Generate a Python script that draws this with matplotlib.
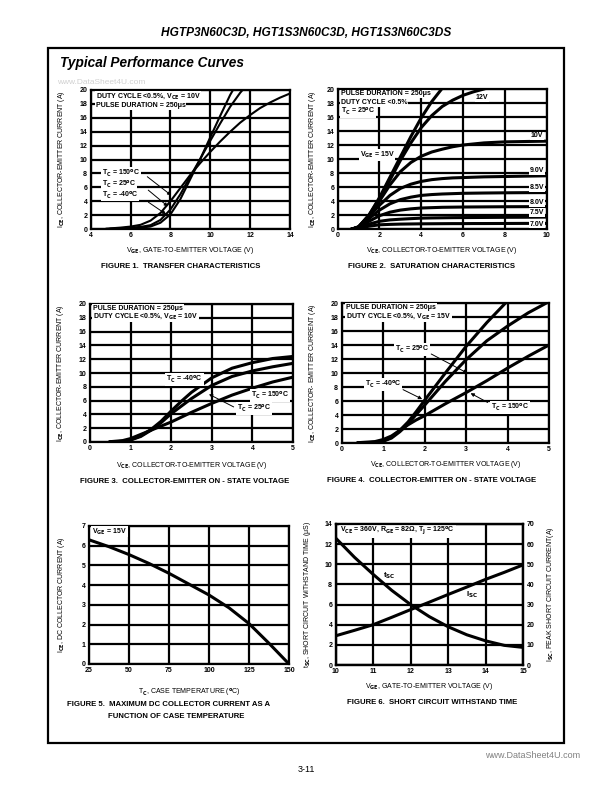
import matplotlib
matplotlib.use('Agg')
import matplotlib.pyplot as plt
from matplotlib.patches import Rectangle

plt.rcParams['font.family'] = ['Liberation Sans Narrow', 'Liberation Sans', 'DejaVu Sans']
plt.rcParams['font.weight'] = 'bold'
plt.rcParams['mathtext.fontset'] = 'custom'
plt.rcParams['mathtext.rm'] = 'Liberation Sans Narrow:bold'
plt.rcParams['mathtext.it'] = 'Liberation Sans Narrow:bold'
plt.rcParams['mathtext.bf'] = 'Liberation Sans Narrow:bold'

# --- Figure 1: transfer characteristics ---
f1_vge_150 = [4.8, 5.5, 6, 6.5, 7, 7.5, 8, 8.5, 9, 9.5, 10, 10.5, 11, 11.5, 12, 12.5, 13, 13.5, 14]
f1_ice_150 = [0.05, 0.2, 0.35, 0.6, 1.2, 2.3, 4.0, 5.9, 7.8, 9.5, 11.1, 12.6, 14.0, 15.3, 16.4, 17.4, 18.2, 18.9, 19.5]
f1_vge_25 = [5, 5.5, 6, 6.5, 7, 7.5, 8, 8.5, 9, 9.5, 10, 10.5, 11, 11.5, 11.8]
f1_ice_25 = [0.05, 0.1, 0.2, 0.3, 0.55, 1.3, 2.8, 5.0, 7.6, 10.1, 12.7, 15.2, 17.6, 19.6, 20.6]
f1_vge_m40 = [5.5, 6, 6.5, 7, 7.5, 8, 8.5, 9, 9.5, 10, 10.5, 11, 11.3]
f1_ice_m40 = [0.0, 0.1, 0.2, 0.35, 0.9, 2.1, 4.3, 7.2, 10.1, 13.2, 16.3, 19.3, 20.8]

# --- Figure 2: saturation characteristics (VCE -> ICE per VGE) ---
f2_vce = [0.7, 1, 1.5, 2, 2.5, 3, 3.5, 4, 4.5, 5, 5.5, 6, 6.5, 7, 8, 9, 10]
f2_curves = {
    '15V': [0.0, 0.3, 2.0, 4.5, 7.4, 10.3, 13.2, 15.9, 18.2, 20.1, 22, 23, 24, 25, 26, 27, 28],
    '12V': [0.0, 0.3, 2.0, 4.3, 7.0, 9.8, 12.3, 14.5, 16.2, 17.5, 18.4, 19.1, 19.6, 20.0, 21, 21.5, 22],
    '10V': [0.0, 0.3, 1.9, 4.0, 6.3, 8.2, 9.5, 10.4, 11.0, 11.4, 11.75, 12.0, 12.15, 12.3, 12.45, 12.5, 12.55],
    '9.0V': [0.0, 0.3, 1.8, 3.4, 4.8, 5.8, 6.4, 6.8, 7.05, 7.2, 7.3, 7.35, 7.4, 7.45, 7.5, 7.55, 7.6],
    '8.5V': [0.0, 0.3, 1.5, 2.7, 3.6, 4.2, 4.55, 4.8, 4.92, 5.0, 5.05, 5.1, 5.12, 5.14, 5.17, 5.19, 5.2],
    '8.0V': [0.0, 0.2, 1.1, 1.9, 2.4, 2.7, 2.88, 3.0, 3.05, 3.1, 3.12, 3.14, 3.15, 3.16, 3.18, 3.19, 3.2],
    '7.5V': [0.0, 0.2, 0.7, 1.1, 1.3, 1.4, 1.48, 1.55, 1.58, 1.6, 1.62, 1.63, 1.64, 1.65, 1.67, 1.68, 1.7],
    '7.0V': [0.0, 0.1, 0.4, 0.6, 0.66, 0.7, 0.72, 0.74, 0.75, 0.76, 0.77, 0.77, 0.78, 0.78, 0.79, 0.8, 0.8],
}
f2_label_xy = {
    '12V': (6.6, 18.8), '10V': (9.25, 13.3), '9.0V': (9.2, 8.3), '8.5V': (9.2, 5.95),
    '8.0V': (9.2, 3.8), '7.5V': (9.2, 2.4), '7.0V': (9.2, 0.7),
}

# --- Figure 3: on-state voltage, VGE = 10V ---
f3_vce = [0.5, 0.8, 1, 1.25, 1.5, 1.75, 2, 2.25, 2.5, 3, 3.5, 4, 4.5, 5]
f3_ice_m40 = [0.0, 0.1, 0.3, 0.9, 1.8, 3.0, 4.5, 5.9, 7.2, 9.3, 10.7, 11.5, 12.1, 12.4]
f3_ice_25 = [0.0, 0.1, 0.3, 0.8, 1.7, 2.8, 4.1, 5.2, 6.3, 8.2, 9.5, 10.3, 10.9, 11.4]
f3_ice_150 = [0.05, 0.2, 0.5, 1.1, 1.7, 2.3, 2.9, 3.6, 4.3, 5.6, 6.8, 7.8, 8.7, 9.4]

# --- Figure 4: on-state voltage, VGE = 15V ---
f4_vce = [0.4, 0.8, 1, 1.2, 1.4, 1.6, 1.8, 2, 2.5, 3, 3.5, 4, 4.5, 5]
f4_ice_m40 = [0.0, 0.1, 0.3, 0.8, 1.8, 3.0, 4.5, 6.1, 10.0, 13.8, 17.2, 20.3, 23, 25]
f4_ice_25 = [0.0, 0.1, 0.25, 0.7, 1.6, 2.7, 4.1, 5.4, 8.8, 11.9, 14.6, 16.7, 18.6, 20.2]
f4_ice_150 = [0.05, 0.2, 0.5, 1.0, 1.8, 2.6, 3.3, 3.9, 5.6, 7.2, 8.9, 10.7, 12.4, 14.0]

# --- Figure 5: max DC collector current vs case temperature ---
f5_tc = [25, 37.5, 50, 62.5, 75, 87.5, 100, 112.5, 125, 137.5, 150]
f5_ice = [6.3, 5.95, 5.55, 5.1, 4.6, 4.05, 3.5, 2.85, 2.05, 1.05, 0.0]

# --- Figure 6: short circuit withstand time ---
f6_vge = [10, 10.5, 11, 11.5, 12, 12.5, 13, 13.5, 14, 14.5, 15]
f6_tsc = [12.6, 10.7, 9.0, 7.4, 6.0, 4.8, 3.8, 3.0, 2.4, 1.95, 1.75]
f6_isc = [14.5, 17.2, 20.0, 23.7, 27.5, 31.2, 35.0, 38.7, 42.5, 46.0, 49.7]

W, H = 612, 792
fig = plt.figure(figsize=(W / 100, H / 100), dpi=100)


def rect(l, t, r, b):
    return [l / W, 1 - b / H, (r - l) / W, (b - t) / H]


def sub(s):
    return r'$_\mathrm{' + s + '}$'


DEG = r'$^\mathrm{o}$'
TS = 5.0
LBL = dict(facecolor='white', edgecolor='none', pad=0.6)


def style(ax, xlim, ylim, xticks, yticks, xlabel, ylabel, xl_y, yl_x):
    ax.set_xlim(*xlim)
    ax.set_ylim(*ylim)
    ax.set_xticks(xticks)
    ax.set_yticks(yticks)
    ax.grid(True, color='black', lw=1.6)
    ax.set_axisbelow(True)
    ax.tick_params(length=0, labelsize=TS, pad=2.5)
    for s in ax.spines.values():
        s.set_linewidth(1.6)
    ax.set_xlabel(xlabel, fontsize=TS)
    ax.set_ylabel(ylabel, fontsize=TS)
    ax.xaxis.set_label_coords(0.5, xl_y)
    ax.yaxis.set_label_coords(yl_x, 0.5)


def note(ax, s, x, y, **kw):
    ax.text(x, y, s, fontsize=TS, va='center', ha='left', bbox=LBL, zorder=5, **kw)


def arrow(ax, tip, tail):
    ax.annotate('', xy=tip, xytext=tail,
                arrowprops=dict(arrowstyle='-|>', lw=0.7, color='black', mutation_scale=5),
                zorder=6)


ICE = 'I' + sub('CE') + ', COLLECTOR-EMITTER CURRENT (A)'
VCE = 'V' + sub('CE') + ', COLLECTOR-TO-EMITTER VOLTAGE (V)'

# Figure 1
ax1 = fig.add_axes(rect(90.7, 90, 290, 229))
style(ax1, (4, 14), (0, 20), range(4, 15, 2), range(0, 21, 2),
      'V' + sub('GE') + ', GATE-TO-EMITTER VOLTAGE (V)', ICE, -0.115, -0.12)
for xs, ys in [(f1_vge_150, f1_ice_150), (f1_vge_25, f1_ice_25), (f1_vge_m40, f1_ice_m40)]:
    ax1.plot(xs, ys, color='black', lw=1.5)
note(ax1, 'DUTY CYCLE <0.5%, V' + sub('CE') + ' = 10V', 4.25, 19.1)
note(ax1, 'PULSE DURATION = 250\u03bcs', 4.25, 17.8)
note(ax1, 'T' + sub('C') + ' = 150' + DEG + 'C', 4.55, 8.0)
note(ax1, 'T' + sub('C') + ' = 25' + DEG + 'C', 4.55, 6.45)
note(ax1, 'T' + sub('C') + ' = -40' + DEG + 'C', 4.55, 4.9)
arrow(ax1, (8.15, 4.6), (6.73, 7.77))
arrow(ax1, (7.98, 3.0), (6.78, 5.85))
arrow(ax1, (7.9, 1.9), (6.78, 4.08))

# Figure 2
ax2 = fig.add_axes(rect(337.7, 89, 546.7, 229))
style(ax2, (0, 10), (0, 20), range(0, 11, 2), range(0, 21, 2), VCE, ICE, -0.114, -0.094)
for name, ys in f2_curves.items():
    ax2.plot(f2_vce, ys, color='black', lw=2.2)
    if name in f2_label_xy:
        note(ax2, name, *f2_label_xy[name])
note(ax2, 'PULSE DURATION = 250\u03bcs', 0.14, 19.3)
note(ax2, 'DUTY CYCLE <0.5%', 0.14, 18.1)
note(ax2, 'T' + sub('C') + ' = 25' + DEG + 'C', 0.14, 16.8)
note(ax2, 'V' + sub('GE') + ' = 15V', 1.05, 10.6)

# Figure 3
ax3 = fig.add_axes(rect(90, 304, 293, 442))
style(ax3, (0, 5), (0, 20), range(0, 6), range(0, 21, 2), VCE, ICE, -0.13, -0.118)
for ys in (f3_ice_m40, f3_ice_25, f3_ice_150):
    ax3.plot(f3_vce, ys, color='black', lw=2.2)
note(ax3, 'PULSE DURATION = 250\u03bcs', 0.08, 19.4)
note(ax3, 'DUTY CYCLE <0.5%, V' + sub('GE') + ' = 10V', 0.08, 18.2)
note(ax3, 'T' + sub('C') + ' = -40' + DEG + 'C', 1.88, 9.0)
note(ax3, 'T' + sub('C') + ' = 150' + DEG + 'C', 3.97, 6.8)
note(ax3, 'T' + sub('C') + ' = 25' + DEG + 'C', 3.62, 4.9)
arrow(ax3, (2.87, 7.1), (3.6, 4.9))

# Figure 4
ax4 = fig.add_axes(rect(341.7, 303, 549, 443))
style(ax4, (0, 5), (0, 20), range(0, 6), range(0, 21, 2), VCE,
      'I' + sub('CE') + ', COLLECTOR- EMITTER CURRENT (A)', -0.114, -0.114)
for ys in (f4_ice_m40, f4_ice_25, f4_ice_150):
    ax4.plot(f4_vce, ys, color='black', lw=2.2)
note(ax4, 'PULSE DURATION = 250\u03bcs', 0.1, 19.4)
note(ax4, 'DUTY CYCLE <0.5%, V' + sub('GE') + ' = 15V', 0.1, 18.1)
note(ax4, 'T' + sub('C') + ' = 25' + DEG + 'C', 1.28, 13.3)
note(ax4, 'T' + sub('C') + ' = -40' + DEG + 'C', 0.56, 8.3)
note(ax4, 'T' + sub('C') + ' = 150' + DEG + 'C', 3.6, 5.1)
arrow(ax4, (3.09, 9.8), (2.1, 12.9))
arrow(ax4, (2.0, 6.1), (1.42, 7.8))
arrow(ax4, (3.05, 7.3), (3.58, 5.6))

# Figure 5
ax5 = fig.add_axes(rect(89, 526, 289, 664))
style(ax5, (25, 150), (0, 7), range(25, 151, 25), range(0, 8),
      'T' + sub('C') + ', CASE TEMPERATURE (' + DEG + 'C)',
      'I' + sub('CE') + ', DC COLLECTOR CURRENT (A)', -0.17, -0.11)
ax5.plot(f5_tc, f5_ice, color='black', lw=2.2)
note(ax5, 'V' + sub('GE') + ' = 15V', 27, 6.72)

# Figure 6
ax6 = fig.add_axes(rect(335.7, 524, 523, 665))
style(ax6, (10, 15), (0, 14), range(10, 16), range(0, 15, 2),
      'V' + sub('GE') + ', GATE-TO-EMITTER VOLTAGE (V)',
      't' + sub('SC') + ', SHORT CIRCUIT WITHSTAND TIME (\u03bcS)', -0.11, -0.121)
ax6.plot(f6_vge, f6_tsc, color='black', lw=2.2)
ax6r = ax6.twinx()
ax6r.set_ylim(0, 70)
ax6r.set_yticks(range(0, 71, 10))
ax6r.tick_params(length=0, labelsize=TS, pad=2.5)
ax6r.plot(f6_vge, f6_isc, color='black', lw=2.2)
ax6r.set_ylabel('I' + sub('SC') + ', PEAK SHORT CIRCUIT CURRENT(A)', fontsize=TS)
ax6r.yaxis.set_label_coords(1.118, 0.5)
for s in ax6r.spines.values():
    s.set_linewidth(1.6)
note(ax6, 'V' + sub('CE') + ' = 360V, R' + sub('GE') + ' = 82\u03a9, T' + sub('J') + ' = 125' + DEG + 'C',
     10.12, 13.35)
ax6.text(11.25, 8.9, 't' + sub('SC'), fontsize=TS + 0.8, ha='left', va='center')
ax6.text(13.47, 6.95, 'I' + sub('SC'), fontsize=TS + 0.8, ha='left', va='center')

# Captions
CAP = 5.6
caps = [
    (180.5, 266, 'FIGURE 1.  TRANSFER CHARACTERISTICS'),
    (432, 266, 'FIGURE 2.  SATURATION CHARACTERISTICS'),
    (185, 481, 'FIGURE 3.  COLLECTOR-EMITTER ON - STATE VOLTAGE'),
    (432, 480, 'FIGURE 4.  COLLECTOR-EMITTER ON - STATE VOLTAGE'),
    (432, 702, 'FIGURE 6.  SHORT CIRCUIT WITHSTAND TIME'),
]
for x, y, s in caps:
    fig.text(x / W, 1 - y / H, s, fontsize=CAP, ha='center', va='center')
fig.text(67 / W, 1 - 704 / H, 'FIGURE 5.  MAXIMUM DC COLLECTOR CURRENT AS A', fontsize=CAP, ha='left', va='center')
fig.text(108 / W, 1 - 716 / H, 'FUNCTION OF CASE TEMPERATURE', fontsize=CAP, ha='left', va='center')

# Page frame and headings
fig.patches.append(Rectangle((48 / W, 1 - 743 / H), (564 - 48) / W, (743 - 48) / H,
                             transform=fig.transFigure, fill=False, lw=1.6, color='black'))
fig.text(306 / W, 1 - 33 / H, 'HGTP3N60C3D, HGT1S3N60C3D, HGT1S3N60C3DS',
         fontsize=8.6, ha='center', va='center', style='italic', family=['Liberation Sans', 'DejaVu Sans'])
fig.text(60 / W, 1 - 63 / H, 'Typical Performance Curves', fontsize=9.8, ha='left', va='center',
         style='italic', family=['Liberation Sans', 'DejaVu Sans'])
fig.text(57 / W, 1 - 83 / H, 'www.DataSheet4U.com', fontsize=6.0, color='#d0d0d0', zorder=-1,
         weight='normal', ha='left', va='center', family=['Liberation Sans', 'DejaVu Sans'])
fig.text(580 / W, 1 - 756 / H, 'www.DataSheet4U.com', fontsize=6.5, color='#808080',
         weight='normal', ha='right', va='center', family=['Liberation Sans', 'DejaVu Sans'])
fig.text(306 / W, 1 - 770 / H, '3-11', fontsize=6.5, weight='normal', ha='center', va='center',
         family=['Liberation Sans', 'DejaVu Sans'])

fig.savefig('out.png', dpi=100)
